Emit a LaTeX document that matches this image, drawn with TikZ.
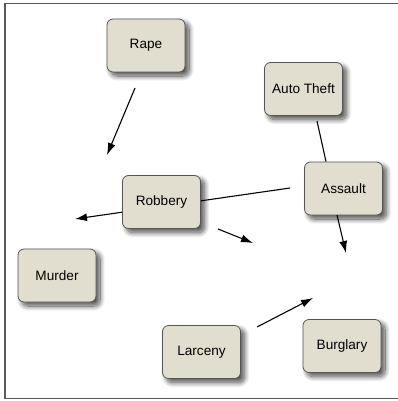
\documentclass[tikz,border=0pt]{standalone}
\usepackage{fontspec}
\setmainfont{Liberation Sans}
\usetikzlibrary{shadows.blur,arrows.meta}
\definecolor{boxfill}{HTML}{E1DECF}
\definecolor{boxline}{HTML}{555555}
\tikzset{
  crime/.style={draw=boxline, line width=0.8pt, fill=boxfill, rounded corners=6pt,
    minimum width=78pt, minimum height=53pt, inner sep=0pt, font=\fontsize{13.6}{16}\selectfont,
    blur shadow={shadow xshift=4pt, shadow yshift=-4pt, shadow blur radius=5pt, shadow blur steps=12, shadow opacity=70}},
  link/.style={line width=1.1pt, draw=black},
  arr/.style={link, -{Latex[length=12pt,width=8pt]}},
}
\begin{document}
\begin{tikzpicture}[x=1pt,y=-1pt]
\useasboundingbox (0,0) rectangle (398,401);
\begin{scope}
\clip (0,0) rectangle (398,401);
\draw[draw=black!65, line width=1.2pt] (5,3.5) rectangle (405,398.5);
\end{scope}
% free ends
\coordinate (rapeS) at (135,88);
\coordinate (rapeT) at (107,155);
\coordinate (assW) at (290,188);
\coordinate (robT) at (75,219);
\coordinate (robS) at (218,229);
\coordinate (robE) at (253,243);
\coordinate (assS) at (337,215);
\coordinate (assE) at (346,253);
\coordinate (larS) at (257,327);
\coordinate (larE) at (313,298);
\coordinate (autoS) at (317,121);
\draw[arr] (assW) -- (robT);
\node[crime] (rape) at (146,45.5) {Rape};
\node[crime] (auto) at (303.5,89) {Auto Theft};
\node[crime] (assault) at (343.5,188.5) {Assault};
\node[crime] (robbery) at (161.5,202) {Robbery};
\node[crime] (murder) at (57,275.5) {Murder};
\node[crime] (larceny) at (201.5,352) {Larceny};
\node[crime] (burglary) at (342,346) {Burglary};
\draw[link] (autoS) -- ([xshift=-17.5pt]assault.north);
\draw[arr] (rapeS) -- (rapeT);
\draw[arr] (robS) -- (robE);
\draw[arr] (assS) -- (assE);
\draw[arr] (larS) -- (larE);
\end{tikzpicture}
\end{document}
